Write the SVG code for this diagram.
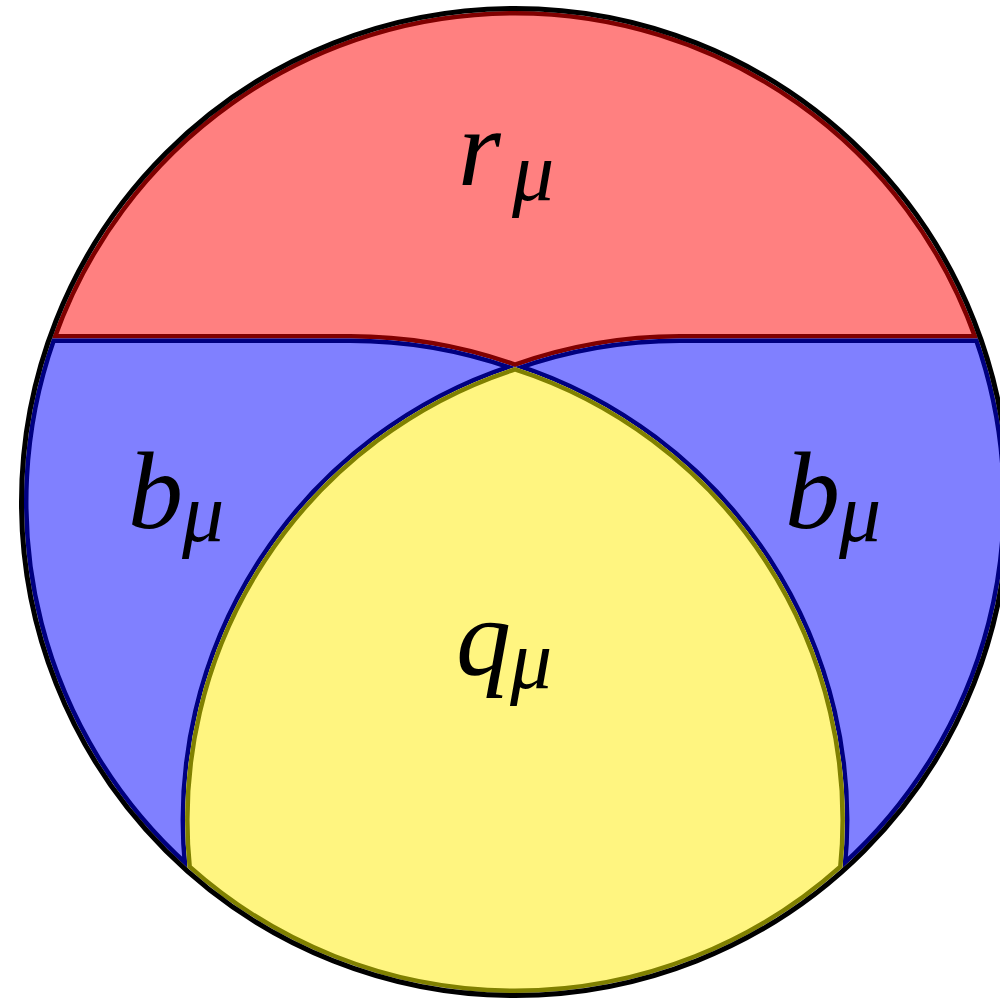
<svg xmlns="http://www.w3.org/2000/svg" width="1000" height="999" viewBox="0 0 1000 999">
<style>
.m{font-family:"Liberation Serif",serif;font-style:italic;font-size:110px;fill:#000}
.s{font-family:"Liberation Serif",serif;font-style:italic;font-size:84px;fill:#000}
.reg{stroke-width:9;stroke-linejoin:round}
</style>
<defs>
<path id="pRed" d="M 52 338.5 A 491 491 0 0 1 978 338.5 L 679.8 338.5 A 491 491 0 0 0 515 367 A 491 491 0 0 0 350.2 338.5 Z"/>
<path id="pBlueL" d="M 52 338.5 L 350.2 338.5 A 491 491 0 0 1 515 367 A 476 476 0 0 0 187.5 867.8 A 491 491 0 0 1 52 338.5 Z"/>
<path id="pBlueR" d="M 978 338.5 L 679.8 338.5 A 491 491 0 0 0 515 367 A 476 476 0 0 1 842.5 867.8 A 491 491 0 0 0 978 338.5 Z"/>
<path id="pYel" d="M 515 367 A 476 476 0 0 0 187.5 867.8 A 491 491 0 0 0 842.5 867.8 A 476 476 0 0 0 515 367 Z"/>
<clipPath id="cRed"><use href="#pRed"/></clipPath>
<clipPath id="cBlueL"><use href="#pBlueL"/></clipPath>
<clipPath id="cBlueR"><use href="#pBlueR"/></clipPath>
<clipPath id="cYel"><use href="#pYel"/></clipPath>
</defs>
<g id="red">
<use href="#pRed" class="reg" fill="#ff8080" stroke="#800000" clip-path="url(#cRed)"/>
<text class="m" x="458" y="185">r</text><text class="s" x="512" y="200">μ</text>
</g>
<g id="blueLeft">
<use href="#pBlueL" class="reg" fill="#8080ff" stroke="#000080" clip-path="url(#cBlueL)"/>
<text class="m" x="128" y="528">b</text><text class="s" x="182" y="541">μ</text>
</g>
<g id="blueRight">
<use href="#pBlueR" class="reg" fill="#8080ff" stroke="#000080" clip-path="url(#cBlueR)"/>
<text class="m" x="785" y="528">b</text><text class="s" x="839" y="541">μ</text>
</g>
<g id="yellow">
<use href="#pYel" class="reg" fill="#fff580" stroke="#808000" clip-path="url(#cYel)"/>
<text class="m" x="456" y="675">q</text><text class="s" x="510" y="688">μ</text>
</g>
<g id="outline">
<circle cx="515" cy="502" r="493.5" fill="none" stroke="#000" stroke-width="5"/>
</g>
</svg>
